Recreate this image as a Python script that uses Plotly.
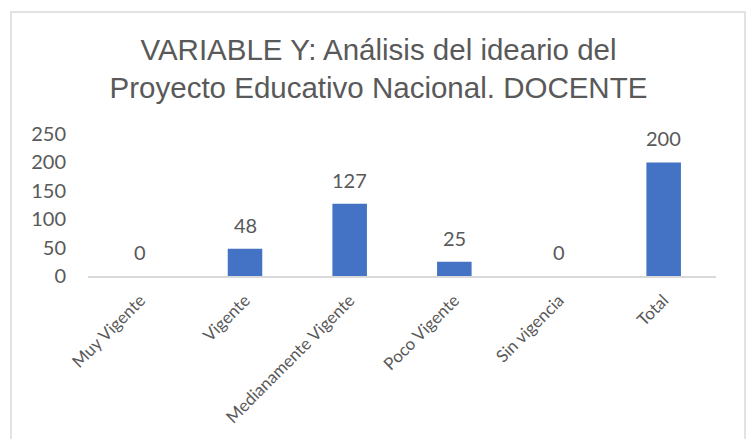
import plotly.graph_objects as go

categories = ["Muy Vigente", "Vigente", "Medianamente Vigente", "Poco Vigente", "Sin vigencia", "Total"]
values = [0, 48, 127, 25, 0, 200]
y_ticks = [0, 50, 100, 150, 200, 250]

title_text = "VARIABLE Y: Análisis del ideario del<br>Proyecto Educativo Nacional. DOCENTE"

bar_color = "#4472C4"
text_color = "#595959"
line_color = "#D9D9D9"

W, H = 748, 439
ml, mr, mt, mb = 88, 32, 134, 163
pw, ph = W - ml - mr, H - mt - mb

fig = go.Figure()
fig.add_trace(go.Bar(
    x=categories,
    y=values,
    marker=dict(color=bar_color, line=dict(width=0)),
    width=0.33,
    hoverinfo="x+y",
))

# value labels above each bar
for c, v in zip(categories, values):
    fig.add_annotation(
        x=c, y=v, text=str(v), showarrow=False,
        yanchor="bottom", yshift=10,
        font=dict(family="Lato", size=20, color=text_color),
    )

# outer chart frame
def px_x(p):
    return (p - ml) / pw

def px_y(p):
    return (H - mb - p) / ph

fig.add_shape(
    type="rect", xref="paper", yref="paper",
    x0=px_x(11), x1=px_x(745), y0=px_y(450), y1=px_y(12),
    line=dict(color=line_color, width=1.5), fillcolor="rgba(0,0,0,0)",
    layer="below",
)

fig.update_layout(
    width=W, height=H,
    margin=dict(l=ml, r=mr, t=mt, b=mb),
    paper_bgcolor="white",
    plot_bgcolor="white",
    showlegend=False,
    title=dict(
        text=title_text,
        x=0.506, xref="container", xanchor="center",
        y=(H - 60) / H, yref="container", yanchor="middle",
        font=dict(family="Liberation Sans", size=29.5, color=text_color),
    ),
    xaxis=dict(
        type="category",
        tickangle=-45,
        tickfont=dict(family="Lato", size=17, color=text_color),
        showline=True, linecolor=line_color, linewidth=1.5,
        showgrid=False, ticks="",
        ticklabelstandoff=6,
    ),
    yaxis=dict(
        range=[0, 250],
        tickmode="array", tickvals=y_ticks,
        tickfont=dict(family="Lato", size=20, color=text_color),
        showgrid=False, zeroline=False, showline=False, ticks="",
        ticklabelstandoff=21,
    ),
)

fig.write_html("out.html")
